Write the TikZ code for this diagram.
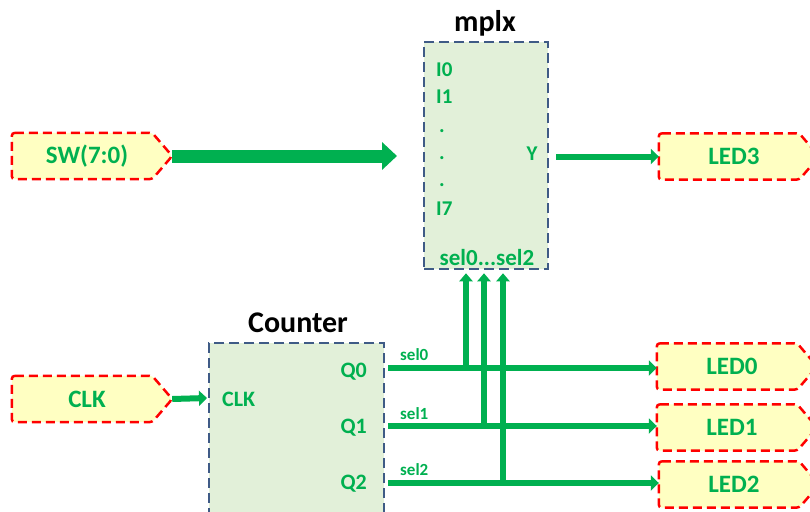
\documentclass[tikz,border=0pt]{standalone}
\usepackage{fontspec}
\setmainfont{Carlito}
\usetikzlibrary{arrows.meta,backgrounds,calc}
\definecolor{sigGreen}{HTML}{00B050}
\definecolor{boxFill}{HTML}{E2F0D9}
\definecolor{boxLine}{HTML}{3F5B86}
\definecolor{tagFill}{HTML}{FFFFC2}
\definecolor{tagLine}{HTML}{FF0000}
\begin{document}
\begin{tikzpicture}[x=1pt,y=-1pt,
  tag/.style={minimum width=150pt, minimum height=46pt, inner sep=0pt,
    text=sigGreen, font=\fontsize{25}{30}\selectfont\bfseries},
  tagline/.style={draw=tagLine, fill=tagFill, line width=2.5pt,
    dash pattern=on 9pt off 5pt, rounded corners=3pt},
  blockbox/.style={draw=boxLine, fill=boxFill, line width=2.5pt,
    dash pattern=on 10pt off 5pt, inner sep=0pt},
  blocktitle/.style={font=\fontsize{30}{36}\selectfont\bfseries, text=black, inner sep=0pt},
  mport/.style={font=\fontsize{21}{25}\selectfont\bfseries, text=sigGreen, inner sep=0pt},
  cport/.style={font=\fontsize{22}{26}\selectfont\bfseries, text=sigGreen, inner sep=0pt},
  netname/.style={font=\fontsize{17}{20}\selectfont\bfseries, text=sigGreen, inner sep=0pt},
  bus/.style={draw=sigGreen, line width=13pt,
    -{Triangle[width=27pt,length=15pt]}},
  wire/.style={draw=sigGreen, line width=6pt,
    -{Triangle[width=15pt,length=8pt]}},
  selwire/.style={draw=sigGreen, line width=5.5pt,
    -{Triangle[width=13pt,length=8pt]}}
]
\useasboundingbox (0,0) rectangle (810,511);

% I/O tags
\node[tag] (sw)   at (87,156)    {SW(7:0)};
\node[tag] (clk)  at (87,399)    {CLK};
\node[tag] (led3) at (734,156.5) {LED3};
\node[tag] (led0) at (732,366.5) {LED0};
\node[tag] (led1) at (732,427.5) {LED1};
\node[tag] (led2) at (734,484.5) {LED2};
\begin{scope}[on background layer]
  \foreach \n in {sw,clk,led0,led1,led2,led3}{
    \path[tagline] (\n.north west) -- ([xshift=-10pt]\n.north east)
      -- ([xshift=10pt]\n.east) -- ([xshift=-10pt]\n.south east)
      -- (\n.south west) -- cycle;
  }
\end{scope}

% multiplexer block
\node[blockbox, minimum width=124pt, minimum height=227pt] (mplx) at (486,155.5) {};
\node[blocktitle, anchor=base] (mplxtitle) at (485,32) {mplx};
\node[mport, anchor=base west] (i0) at (436,76)  {I0};
\node[mport, anchor=base west] (i1) at (436,103) {I1};
\node[mport, anchor=base west] (d1) at (439,132) {.};
\node[mport, anchor=base west] (d2) at (439,159) {.};
\node[mport, anchor=base west] (d3) at (439,186) {.};
\node[mport, anchor=base west] (i7) at (436,215) {I7};
\node[mport, anchor=base] (yport) at (532,160) {Y};
\node[mport, font=\fontsize{23}{27}\selectfont\bfseries, anchor=base] (selport) at (487,265) {sel0...sel2};

% counter block
\node[blockbox, minimum width=175pt, minimum height=220pt] (counter) at (296.5,453) {};
\node[blocktitle, anchor=base] (countertitle) at (298,332) {Counter};
\node[cport, anchor=base west] (clkport) at (222,406) {CLK};
\node[cport, anchor=base east] (q0) at (367,377) {Q0};
\node[cport, anchor=base east] (q1) at (367,433) {Q1};
\node[cport, anchor=base east] (q2) at (367,489) {Q2};

% net names
\node[netname, anchor=base west] (n0) at (400,360) {sel0};
\node[netname, anchor=base west] (n1) at (400,419) {sel1};
\node[netname, anchor=base west] (n2) at (400,475) {sel2};

% connection points
\coordinate (swend) at (397,156);
\coordinate (yout)  at (556,156.5);
\coordinate (clkin) at (207,398);
\coordinate (q0out) at (388,368);
\coordinate (q1out) at (388,426);
\coordinate (q2out) at (388,483);
\coordinate (tap0)  at (466,368);
\coordinate (tap1)  at (484,426);
\coordinate (tap2)  at (503,483);

% connectors
\draw[bus]  ([xshift=10pt]sw.east) -- (swend);
\draw[wire] (yout) -- (led3.west);
\draw[wire] ([xshift=10pt]clk.east) -- (clkin);
\draw[wire] (q0out) -- (q0out -| led0.west);
\draw[wire] (q1out) -- (q1out -| led1.west);
\draw[wire] (q2out) -- (q2out -| led2.west);
\draw[selwire] (tap0) -- ($(tap0 |- mplx.south)+(0,3)$);
\draw[selwire] (tap1) -- ($(tap1 |- mplx.south)+(0,3)$);
\draw[selwire] (tap2) -- ($(tap2 |- mplx.south)+(0,3)$);
\end{tikzpicture}
\end{document}
